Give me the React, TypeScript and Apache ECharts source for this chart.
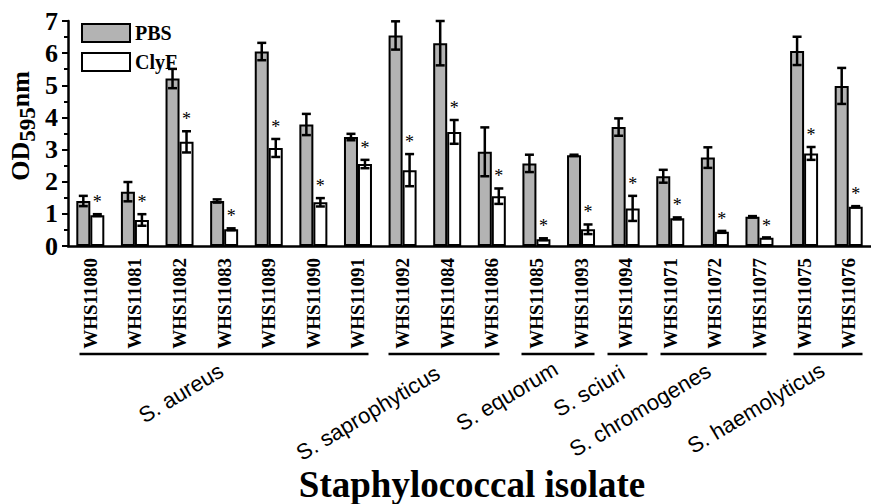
import React, { useEffect, useRef } from "react";
import * as echarts from "echarts";

const categories = [
  "WHS11080", "WHS11081", "WHS11082", "WHS11083", "WHS11089", "WHS11090", "WHS11091",
  "WHS11092", "WHS11084", "WHS11086", "WHS11085", "WHS11093", "WHS11094",
  "WHS11071", "WHS11072", "WHS11077", "WHS11075", "WHS11076",
];
const pbs = [1.40, 1.69, 5.21, 1.40, 6.05, 3.78, 3.39, 6.55, 6.31, 2.93, 2.57, 2.82, 3.70, 2.17, 2.75, 0.91, 6.07, 4.98];
const pbsErr = [0.16, 0.30, 0.30, 0.05, 0.27, 0.33, 0.10, 0.44, 0.69, 0.76, 0.27, 0.02, 0.27, 0.20, 0.32, 0.02, 0.44, 0.56];
const clyf = [0.96, 0.81, 3.24, 0.52, 3.05, 1.36, 2.55, 2.36, 3.55, 1.55, 0.21, 0.52, 1.17, 0.86, 0.44, 0.26, 2.88, 1.22];
const clyfErr = [0.03, 0.18, 0.33, 0.03, 0.28, 0.13, 0.13, 0.50, 0.37, 0.24, 0.03, 0.15, 0.39, 0.03, 0.03, 0.0, 0.20, 0.02];
const yTicks = [0, 1, 2, 3, 4, 5, 6, 7];

// species groups: label, first index, last index
const groupNames = ["S. aureus", "S. saprophyticus", "S. equorum", "S. sciuri", "S. chromogenes", "S. haemolyticus"];
const groupStart = [0, 7, 10, 12, 13, 16];
const groupEnd = [6, 9, 11, 12, 15, 17];

const FONT = "'Liberation Serif', 'Times New Roman', serif";
const BAR_W = 14;
const GRID = { left: 68, top: 21, width: 810, height: 225 };

export default function App() {
  const ref = useRef<HTMLDivElement>(null);
  useEffect(() => {
    if (!ref.current) return;
    const chart = echarts.init(ref.current, null, { renderer: "svg" });

    const errRender = (side: number) => (params: any, api: any) => {
      const i = api.value(0);
      const v = api.value(1);
      const e = api.value(2);
      const top = api.coord([i, v + e]);
      const bot = api.coord([i, v - e]);
      const x = top[0] + side * BAR_W / 2;
      const cap = 4.5;
      const st = { stroke: "#000", lineWidth: 2.5 };
      const children: any[] = [];
      if (e > 0.005) {
        children.push(
          { type: "line", shape: { x1: x, y1: top[1], x2: x, y2: bot[1] }, style: st },
          { type: "line", shape: { x1: x - cap, y1: top[1], x2: x + cap, y2: top[1] }, style: st },
          { type: "line", shape: { x1: x - cap, y1: bot[1], x2: x + cap, y2: bot[1] }, style: st },
        );
      } else {
        children.push({ type: "line", shape: { x1: x - cap, y1: top[1], x2: x + cap, y2: top[1] }, style: { stroke: "#000", lineWidth: 3 } });
      }
      if (side > 0) {
        children.push({
          type: "text",
          style: { text: "*", x: x, y: top[1] - 3, align: "center", verticalAlign: "bottom", fontSize: 18, fontFamily: FONT, fill: "#000" },
        });
      }
      return { type: "group", children };
    };

    // species annotations
    const catW = GRID.width / categories.length;
    const catX = (i: number) => GRID.left + catW * (i + 0.5);
    const padL = [11, 17, 19, 23, 15, 17];
    const padR = [8, 4, 9, 17, 1, 7];
    const labelPos = [
      [181, 393], [368, 413], [507, 396], [589, 391], [640, 410], [756, 408],
    ];
    const lineY = 354;
    const graphics: any[] = [];
    groupNames.forEach((name, g) => {
      graphics.push({
        type: "line",
        shape: { x1: catX(groupStart[g]) - padL[g], y1: lineY, x2: catX(groupEnd[g]) + padR[g], y2: lineY },
        style: { stroke: "#000", lineWidth: 2.5 },
      });
    });
    groupNames.forEach((name, g) => {
      graphics.push({
        type: "text",
        x: labelPos[g][0],
        y: labelPos[g][1],
        rotation: 0.54,
        style: {
          text: name,
          align: "center",
          verticalAlign: "middle",
          fontSize: 22,
          fill: "#000",
        },
      });
    });
    graphics.push({
      type: "text",
      x: 23,
      y: 126,
      rotation: Math.PI / 2,
      style: {
        text: "{a|OD}{b|595}{a|nm}",
        align: "center",
        verticalAlign: "middle",
        rich: {
          a: { fontSize: 26, fontWeight: "bold", fontFamily: FONT, fill: "#000", lineHeight: 26, verticalAlign: "top" },
          b: { fontSize: 23, fontWeight: "bold", fontFamily: FONT, fill: "#000", lineHeight: 32, verticalAlign: "bottom" },
        },
      },
    });
    graphics.push({
      type: "text",
      x: 472,
      y: 484,
      style: {
        text: "Staphylococcal isolate",
        align: "center",
        verticalAlign: "middle",
        fontSize: 37,
        fontWeight: "bold",
        fontFamily: FONT,
        fill: "#000",
      },
    });

    chart.setOption({
      animation: false,
      textStyle: { fontFamily: FONT },
      grid: GRID,
      legend: {
        orient: "vertical",
        left: 76,
        top: 18,
        itemWidth: 48,
        itemHeight: 18,
        itemGap: 9,
        textStyle: { fontSize: 20, fontWeight: "bold", color: "#000", fontFamily: FONT },
        itemStyle: { borderColor: "#000", borderWidth: 2 },
        data: [{ name: "PBS", icon: "rect" }, { name: "ClyF", icon: "rect" }],
      },
      xAxis: [
        {
          type: "category",
          data: categories,
          axisLine: { lineStyle: { color: "#000", width: 2.5 } },
          axisTick: { alignWithLabel: true, length: 7, interval: 0, lineStyle: { color: "#000", width: 2 } },
          axisLabel: { rotate: 90, interval: 0, margin: 12, fontSize: 19, fontWeight: "bold", color: "#000", fontFamily: FONT },
        },
        {
          type: "category",
          data: categories,
          position: "bottom",
          axisLine: { show: false },
          axisTick: { alignWithLabel: false, length: 4, interval: 0, lineStyle: { color: "#000", width: 2 } },
          axisLabel: { show: false },
        },
      ],
      yAxis: {
        type: "value",
        min: yTicks[0],
        max: yTicks[yTicks.length - 1],
        interval: 1,
        splitLine: { show: false },
        axisLine: { show: true, lineStyle: { color: "#000", width: 2.5 } },
        axisTick: { show: true, length: 6, lineStyle: { color: "#000", width: 2 } },
        minorTick: { show: true, splitNumber: 2, length: 4, lineStyle: { color: "#000", width: 2 } },
        axisLabel: { margin: 10, fontSize: 26, fontWeight: "bold", color: "#000", fontFamily: FONT },
      },
      graphic: graphics,
      series: [
        {
          name: "PBS",
          type: "bar",
          data: pbs,
          barWidth: BAR_W,
          barGap: "0%",
          itemStyle: { color: "#b3b3b3", borderColor: "#000", borderWidth: 2 },
        },
        {
          name: "ClyF",
          type: "bar",
          data: clyf,
          barWidth: BAR_W,
          barGap: "0%",
          itemStyle: { color: "#ffffff", borderColor: "#000", borderWidth: 2 },
        },
        {
          type: "custom",
          renderItem: errRender(-1),
          data: pbs.map((v, i) => [i, v, pbsErr[i]]),
          encode: { x: 0, y: 1 },
          z: 10,
          silent: true,
        },
        {
          type: "custom",
          renderItem: errRender(1),
          data: clyf.map((v, i) => [i, v, clyfErr[i]]),
          encode: { x: 0, y: 1 },
          z: 10,
          silent: true,
        },
      ],
    });

    return () => chart.dispose();
  }, []);
  return <div ref={ref} style={{ position: "absolute", left: 0, top: 0, width: 871, height: 504 }} />;
}
